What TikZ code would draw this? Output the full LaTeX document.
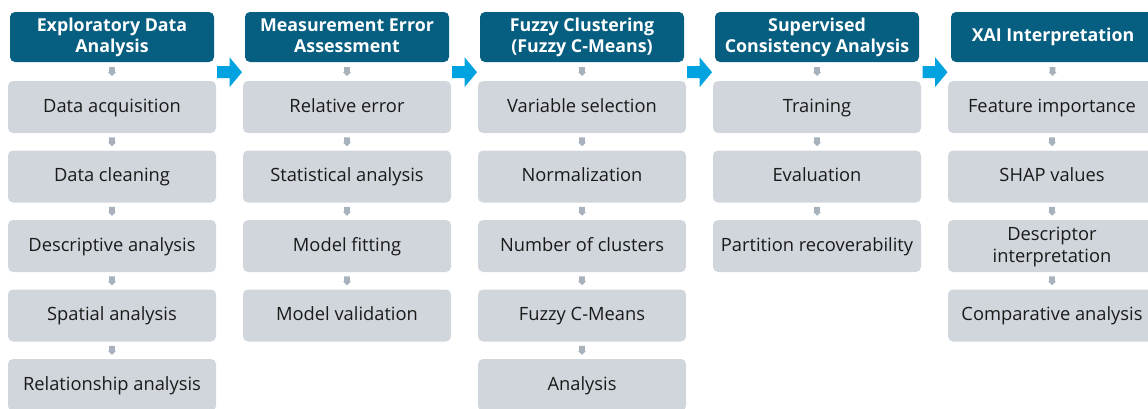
\documentclass[tikz,border=0pt]{standalone}
\usepackage{fontspec}
\setmainfont{Open Sans}
\usetikzlibrary{calc}
\definecolor{headblue}{RGB}{6,94,128}
\definecolor{boxgray}{RGB}{209,214,220}
\definecolor{tipgray}{RGB}{168,178,188}
\definecolor{flowcyan}{RGB}{0,163,224}
\definecolor{textdark}{RGB}{26,26,26}
\tikzset{
  header/.style={fill=headblue, rounded corners=5pt, minimum width=204pt,
    minimum height=50pt, inner sep=0pt, text=white, align=center,
    text height=34pt, text depth=3pt,
    font=\fontsize{17.8}{21.5}\selectfont\bfseries},
  oneline/.style={text height=12.5pt, text depth=3pt},
  stepbox/.style={fill=boxgray, rounded corners=5pt, minimum width=208pt,
    minimum height=52pt, inner sep=0pt, text=textdark, align=center,
    text height=12.5pt, text depth=2.5pt,
    font=\fontsize{18.3}{22}\selectfont},
  twoline/.style={text height=34.5pt, text depth=2.5pt},
  dnarrow/.pic={\fill[tipgray] (-2.8,-4.5) -- (2.8,-4.5) -- (2.8,0.5) -- (4,0.5)
    -- (0,4.5) -- (-4,0.5) -- (-2.8,0.5) -- cycle;},
  rtarrow/.pic={\fill[flowcyan] (-12.5,-6) -- (0,-6) -- (0,-15) -- (12.5,0)
    -- (0,15) -- (0,6) -- (-12.5,6) -- cycle;}
}
% small grey arrow between two vertically stacked nodes
\newcommand\stepdown[2]{\pic at ($(#1.south)!0.5!(#2.north)$) {dnarrow};}
% cyan arrow between two neighbouring header nodes
\newcommand\phasenext[2]{\pic at ($(#1.south east)!0.5!(#2.south west)+(0,10)$) {rtarrow};}
\begin{document}
\begin{tikzpicture}[x=1pt,y=-1pt]
\useasboundingbox (0,0) rectangle (1148,408);

% column 1
\node[header]  (h1) at (112,37)    {Exploratory Data\\Analysis};
\node[stepbox] (a1) at (112,107)   {Data acquisition};
\node[stepbox] (a2) at (112,176.5) {Data cleaning};
\node[stepbox] (a3) at (112,246)   {Descriptive analysis};
\node[stepbox] (a4) at (112,315.5) {Spatial analysis};
\node[stepbox] (a5) at (112,385)   {Relationship analysis};

% column 2
\node[header]  (h2) at (347,37)    {Measurement Error\\Assessment};
\node[stepbox] (b1) at (347,107)   {Relative error};
\node[stepbox] (b2) at (347,176.5) {Statistical analysis};
\node[stepbox] (b3) at (347,246)   {Model fitting};
\node[stepbox] (b4) at (347,315.5) {Model validation};

% column 3
\node[header]  (h3) at (582,37)    {Fuzzy Clustering\\(Fuzzy C-Means)};
\node[stepbox] (c1) at (582,107)   {Variable selection};
\node[stepbox] (c2) at (582,176.5) {Normalization};
\node[stepbox] (c3) at (582,246)   {Number of clusters};
\node[stepbox] (c4) at (582,315.5) {Fuzzy C-Means};
\node[stepbox] (c5) at (582,385)   {Analysis};

% column 4
\node[header]  (h4) at (817,37)    {Supervised\\Consistency Analysis};
\node[stepbox] (d1) at (817,107)   {Training};
\node[stepbox] (d2) at (817,176.5) {Evaluation};
\node[stepbox] (d3) at (817,246)   {Partition recoverability};

% column 5
\node[header,oneline] (h5) at (1053,37) {XAI Interpretation};
\node[stepbox] (e1) at (1052,107)  {Feature importance};
\node[stepbox] (e2) at (1052,176.5){SHAP values};
\node[stepbox,twoline] (e3) at (1052,246) {Descriptor\\interpretation};
\node[stepbox] (e4) at (1052,315.5){Comparative analysis};

% vertical step arrows
\stepdown{h1}{a1}\stepdown{a1}{a2}\stepdown{a2}{a3}\stepdown{a3}{a4}\stepdown{a4}{a5}
\stepdown{h2}{b1}\stepdown{b1}{b2}\stepdown{b2}{b3}\stepdown{b3}{b4}
\stepdown{h3}{c1}\stepdown{c1}{c2}\stepdown{c2}{c3}\stepdown{c3}{c4}\stepdown{c4}{c5}
\stepdown{h4}{d1}\stepdown{d1}{d2}\stepdown{d2}{d3}
\stepdown{h5}{e1}\stepdown{e1}{e2}\stepdown{e2}{e3}\stepdown{e3}{e4}

% arrows between phases
\phasenext{h1}{h2}\phasenext{h2}{h3}\phasenext{h3}{h4}\phasenext{h4}{h5}
\end{tikzpicture}
\end{document}
